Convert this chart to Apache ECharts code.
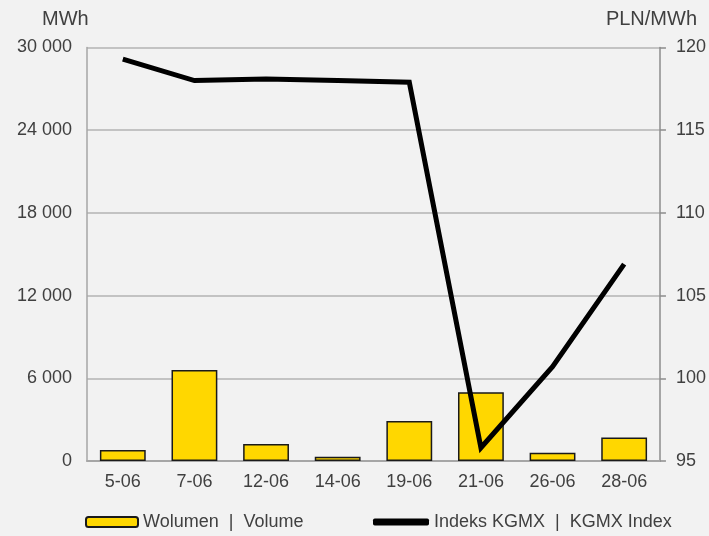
<!DOCTYPE html>
<html><head><meta charset="utf-8">
<script src="https://cdn.jsdelivr.net/npm/echarts@6/dist/echarts.min.js"></script>
<style>html,body{margin:0;padding:0;background:#f2f2f2}#c{width:709px;height:536px}</style>
</head><body><div id="c"></div>
<script>
const categories = ['5-06','7-06','12-06','14-06','19-06','21-06','26-06','28-06'];
const volume = [800, 6600, 1230, 300, 2900, 4990, 600, 1700];
const indexKGMX = [119.3, 118.0, 118.1, 118.0, 117.9, 95.8, 100.7, 106.9];
const volumeName = 'Wolumen  |  Volume';
const indexName = 'Indeks KGMX  |  KGMX Index';
const leftUnit = 'MWh';
const rightUnit = 'PLN/MWh';

const txt = '#404040';
const font = 'Liberation Sans, Arial, sans-serif';
const chart = echarts.init(document.getElementById('c'));
chart.setOption({
  backgroundColor: '#f2f2f2',
  animation: false,
  grid: {left: 87, right: 48, top: 47.5, bottom: 75, containLabel: false},
  legend: [
    {left: 85, top: 513, padding: 0, itemWidth: 52, itemHeight: 10, data: [volumeName],
     textStyle: {color: txt, fontSize: 18, fontFamily: font}},
    {left: 373, top: 513, padding: 0, itemWidth: 56, itemHeight: 7,
     data: [{name: indexName, icon: 'roundRect'}],
     textStyle: {color: txt, fontSize: 18, fontFamily: font}}
  ],
  graphic: [
    {type: 'text', left: 42, top: 9, style: {text: leftUnit, fill: txt, font: '20px ' + font}},
    {type: 'text', right: 12, top: 9, style: {text: rightUnit, fill: txt, font: '20px ' + font}}
  ],
  xAxis: {
    type: 'category', data: categories,
    axisLine: {lineStyle: {color: '#a6a6a6', width: 2}},
    axisTick: {show: false},
    axisLabel: {color: txt, fontSize: 18, fontFamily: font, margin: 12}
  },
  yAxis: [
    {type: 'value', min: 0, max: 30000, interval: 6000,
     axisLine: {show: true, lineStyle: {color: '#a6a6a6', width: 1.5}},
     axisTick: {show: false},
     splitLine: {lineStyle: {color: '#b3b3b3', width: 1.5}},
     axisLabel: {color: txt, fontSize: 18, fontFamily: font, margin: 15,
       formatter: v => String(v).replace(/\B(?=(\d{3})+(?!\d))/g, ' ')}},
    {type: 'value', min: 95, max: 120, interval: 5, position: 'right',
     axisLine: {show: true, lineStyle: {color: '#8c8c8c', width: 1.5}},
     axisTick: {show: true, length: 6, lineStyle: {color: '#8c8c8c', width: 1.5}},
     splitLine: {show: false},
     axisLabel: {color: txt, fontSize: 18, fontFamily: font, margin: 16}}
  ],
  series: [
    {name: volumeName, type: 'bar', data: volume, yAxisIndex: 0, barWidth: '64%',
     itemStyle: {color: '#FFD700', borderColor: '#1a1a1a', borderWidth: 1.5}},
    {name: indexName, type: 'line', data: indexKGMX, yAxisIndex: 1,
     showSymbol: false, symbol: 'none',
     lineStyle: {color: '#000', width: 5, join: 'miter'},
     itemStyle: {color: '#000'}}
  ]
});
</script></body></html>
